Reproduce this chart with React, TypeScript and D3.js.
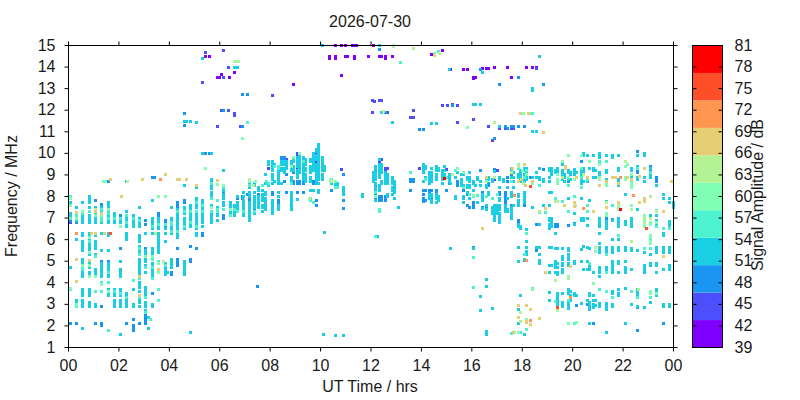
import * as d3 from 'd3';
import React, { useEffect, useRef } from 'react';

type Column = [number, number[]];

const title = '2026-07-30';
const xLabel = 'UT Time / hrs';
const yLabel = 'Frequency / MHz';
const barLabel = 'Signal Amplitude / dB';

const hourTicks = [0, 2, 4, 6, 8, 10, 12, 14, 16, 18, 20, 22, 24];
const freqTicks = [1, 2, 3, 4, 5, 6, 7, 8, 9, 10, 11, 12, 13, 14, 15];
const ampTicks = [39, 42, 45, 48, 51, 54, 57, 60, 63, 66, 69, 72, 75, 78, 81];
const palette = ['#8000ff', '#4d4ffc', '#1a96f2', '#1acfe3', '#4df3ce', '#80ffb4', '#b3f396', '#e6ce74', '#ff964f', '#ff4f28', '#ff0000'];

// each list: [hour, [frequencies]], one list per colour band
const amp41: Column[] = [
  [5.44, [14.5]], [5.6, [14.5]], [5.92, [13.5]], [6, [13.5]], [6.08, [13.65]], [6.38, [13.5]], [6.6, [13.75]],
  [8.92, [13.2]], [10.34, [14.5, 14.4]], [10.58, [15, 14.5, 14.4]], [10.83, [13.6, 15]], [10.98, [15]], [11, [14.5]],
  [11.08, [14.5]], [11.27, [15]], [11.35, [15, 14.5, 14.4]], [11.42, [15]], [11.9, [14.5]], [12.1, [15]], [12.33, [14.5]],
  [12.41, [14.5]], [12.58, [14.5, 14.4]], [12.85, [14.5]], [14.4, [14.6]], [14.84, [14.75]], [15.16, [13.9]], [15.68, [13.9]], [15.84, [13.9]],
  [16.08, [13.45, 13.5]], [16.16, [13.5]], [16.44, [13.95]], [16.59, [13.95]], [16.67, [13.95]], [16.91, [14]], [17.43, [14]],
  [17.58, [13.5]], [18.18, [14]], [18.42, [14]], [18.57, [14]],
];

const amp45: Column[] = [
  [0.07, [6.8]], [5.44, [14.67]], [5.32, [13.27]], [5.92, [11.25]], [6.08, [12]], [6.16, [14.77, 13.5]], [6.36, [14, 12]], [6.58, [11.85, 11.75]],
  [6.84, [11.25]], [8.08, [12.7]], [7.92, [9.3]], [8.64, [9.7]], [9.07, [10, 9.9, 9.3]], [9.83, [10, 9.6]], [10.83, [9.25]],
  [12.07, [12.45, 11.9]], [12.15, [12.4]], [12.18, [9.4]], [12.33, [12.45, 9.6]], [12.41, [12.45]], [12.41, [9.7]], [12.57, [9.3, 9.2, 11.9]], [12.66, [11.9, 9.3]],
  [13.7, [12, 11.65]], [13.57, [11.65]], [13.93, [9.3]], [14.59, [9.3, 9.2]], [14.84, [12.2]], [15, [9.25]], [15.04, [12.2]], [15.24, [12.25]],
  [15.44, [12.2, 11.45]], [16.08, [11.55]], [16.67, [11.25]], [16.83, [10.6]], [17.1, [11.15]], [17.35, [11.15]], [17.43, [11.15]], [17.58, [11.15]],
  [17.66, [11.15]], [18.57, [13.95]], [22.57, [9.9]], [17.02, [9.2]], [16.91, [8.8]],
];

const amp48: Column[] = [
  [0.07, [6.9, 2.1]], [0.32, [6.8, 2.1]], [1.07, [7.8, 2.1]], [1.32, [7.65, 5, 2.9, 2.1, 2]], [1.57, [5, 8.7]], [2.07, [7.1, 5.6]], [2.32, [2.1]],
  [2.57, [2.3, 2, 1.9, 1.8]], [2.82, [2.1]], [3.07, [6.9, 6.7, 5.6, 2.5, 2.4, 2.3, 2.2, 2.1]], [3.32, [5.1, 3.5, 8.9]], [3.4, [8.9]], [3.57, [7.2, 7.1]],
  [3.85, [6.9, 6.8, 6.7, 6.6]], [4.07, [4.5, 4.4]], [4.32, [7.7, 7.6, 7.5, 5.6, 5.1, 5, 4.9, 4.8]], [4.6, [7.8, 7.7, 11.85, 11.3]], [4.85, [5.7, 5.1, 5]],
  [5.09, [5.6]], [5.32, [6.3, 6.2]], [5.44, [10]], [5.6, [10]], [5.92, [7.5]], [6.16, [12, 8.2, 7.1, 7]], [6.44, [7.6, 7.5, 7.4]], [6.69, [7.9, 7.5]],
  [6.9, [12.75, 11.25, 8, 7.9]], [7.1, [12.75, 8.1]], [7.17, [7.9, 7.8]], [7.37, [7.4]], [7.5, [3.85]], [7.55, [8.1]], [7.81, [8.2]],
  [8.08, [8.2, 8.1]], [8.32, [7.8, 7.7]], [8.46, [9.8, 9.7]], [8.56, [9.8, 9.7, 8.7]], [8.64, [9, 8.2]], [8.92, [9.1, 8.7, 8.6]], [9.07, [8.7, 8.6, 8.2]], [9.15, [8.7, 8.6]],
  [9.31, [8.7, 8.6, 8.2]], [9.7, [8.7, 8.6]], [9.83, [7.8, 7.6]], [10.43, [8.3]], [10.9, [9, 7.8, 7.45]], [12.18, [8.1, 7.9]], [12.33, [14.8, 8, 7.9, 7.8]],
  [12.41, [8, 7.9, 7.8, 11.9]], [12.57, [8, 7.9, 7.8, 11.9]], [12.85, [11.45]], [13.57, [8.8, 8.7, 8.3]], [13.7, [8.8, 8.7]], [13.93, [11.1]], [14.09, [11.1, 8.3, 8.1, 7.9, 7.75]],
  [14.17, [8.3, 7.8]], [14.32, [8.3, 8.2]], [14.4, [8.3, 8.1, 7.9]], [14.6, [8.3, 8.2]], [15, [8.3]], [15.1, [8.6]], [15.24, [12.2]], [15.44, [8.7, 8.6, 8.5]], [15.68, [8.3]],
  [15.84, [8.1, 7.6]], [15.92, [7.5]], [16.07, [7.7, 7.6, 7.5]], [16.08, [5.65, 7.5]], [16.36, [9.2, 13.9]], [16.44, [8.2, 7.5]], [16.59, [7.5]], [16.67, [8.6, 8.5]], [16.91, [10.7, 9.25, 8.9, 6.9]],
  [17.1, [13.2, 11.25, 8.2, 8.1]], [17.35, [11.25, 8.2, 8.1, 8, 7.9, 7.8, 7.7]], [17.43, [11.15, 8.9, 8.7]], [17.58, [11.25, 9, 8.9, 7.6]], [17.66, [11.25, 8.9]], [17.86, [11.25, 13.5, 6.9, 6.8, 5.65, 5]],
  [18.1, [11.25, 7.6, 5.05]], [18.34, [8.9]], [18.57, [6.7, 5.65, 5.5]], [18.69, [5, 4.9]], [18.85, [9.25, 7.6, 13.2]], [19.33, [6.7, 6.6, 9.2]], [19.41, [6.7, 6.6]],
  [19.84, [9.2, 8.7, 6.65]], [20.08, [6.75, 9.1]], [20.16, [2.95]], [20.59, [3]], [20.67, [3.1]], [20.83, [2.1]], [20.67, [2.1]], [21.35, [7, 6.9]], [21.58, [6.95]], [22.57, [10.1, 9.2, 9.1, 2.85, 1.8]],
  [23.09, [9.4, 9.2]], [23.33, [8.9, 8.8, 8.7]], [23.6, [2.1]], [20.36, [9.6]],
];

const amp52: Column[] = [
  [0.07, [7.7, 7.6, 7.2, 7.1, 7, 4.7]],
  [0.32, [7.5, 7, 6.9, 6, 3.2, 3.1]],
  [0.57, [7.7, 7.1, 7, 6.9, 6.8, 6.3, 6.2, 5.9, 5.8, 5.7, 5.6, 5.5, 5.1, 5, 4.9, 4.5, 4.4, 4.3, 3.7, 3.6, 3.5, 3.4, 3.2, 3.1, 3, 2.9, 1.9]],
  [0.82, [8, 7.9, 7.8, 7.7, 7.5, 7.1, 7, 6.9, 6.8, 6.3, 6.2, 6, 5.8, 5.7, 5.6, 5.5, 5.3, 4.9, 4.7, 4.5, 4.4, 3.7, 3.6, 3.5, 3.4, 3.1, 3, 2.9]],
  [1.07, [7.5, 7.2, 7, 6.9, 6.8, 6.2, 5.9, 5.8, 5.7, 5.6, 5.3, 4.6, 4.5, 4.4, 4.3, 3, 2.9]],
  [1.32, [7.5, 7.3, 7.1, 7, 6.9, 6.8, 6.3, 5.5, 4.9, 4.8, 4.7, 4.6, 4.5, 4.4, 4.3]],
  [1.57, [7.7, 7.6, 7.5, 7.3, 7.1, 7, 6.9, 6.8, 6.3, 6.2, 5.5, 4.9, 4.8, 4.7, 4.6, 4.5, 4.4, 4.3, 3.7, 3.5, 3.4]],
  [1.82, [7.2, 7.1, 7, 6.9, 6.8, 3.7, 3.5, 3.4, 3.2, 3.1, 3, 2.9]],
  [2.07, [6.9, 6.8, 6.6, 5, 4.6, 4.5, 4.4, 4.3, 3.7, 3.6, 3.4, 3.2, 3.1, 3, 2.9, 1.6]],
  [2.32, [7.3, 7, 6.9, 6.8, 6.7, 6.6, 6.3, 6.2, 6.1, 6, 3.5, 3.4, 3.2, 3.1, 3, 2.9, 8.7]],
  [2.57, [7.1, 7, 6.9, 6.8, 6.7, 6.6, 3.7, 3, 2.9]],
  [2.82, [7.5, 7, 6.9, 6.8, 6.7, 6.6, 6.2, 6.1, 6, 5.9, 5.7, 5.5, 5.4, 5.1, 5, 4.9, 4.8, 4.7, 4.6, 4.5, 4.4, 4, 3.9, 3.8, 3.6, 3.2, 3.1, 2.9]],
  [3.07, [6.3, 5.5, 5.4, 5.3, 5.1, 5, 4.8, 4.5, 3.8, 3.7, 3.6, 3.5, 3.4, 3.1, 3, 2.9, 2.7]],
  [3.17, [2.4, 1.9]],
  [3.32, [7.8, 7, 6.9, 6.8, 6.7, 6.6, 6.5, 6.3, 5.6, 5.5, 5.4, 5.3, 5.2, 4.9, 4.8, 4.6, 4.5, 4.4, 4.3, 3, 2.9]],
  [3.57, [7, 6.9, 6.8, 6.7, 6.6, 6.5, 6.3, 6.2, 6.1, 6, 5.9, 5.8, 5.7, 5.6, 5.5, 5.4, 3.2]],
  [3.85, [6.5, 6.3, 5.9, 4.9, 4.8, 4.7, 4.6, 4.5, 4.4]], [3.93, [4.5]],
  [4.07, [7.5, 7, 6.9, 6.7, 6.6, 6.5, 6.3, 5.1, 5, 4.9, 4.8, 4.7]],
  [4.32, [7.4, 7.2, 7.1, 7, 6.9, 6.8, 6.7, 6.6, 6.5, 6.3, 6.2, 6.1, 8.8]],
  [4.6, [7.5, 7.4, 7.2, 7, 6.9, 6.8, 6.7, 6.6, 6.5, 5, 4.9, 4.8, 4.7, 4.6, 4.5, 4.4, 11.5, 8.5]], [4.69, [11.5]],
  [4.85, [7.6, 7.5, 7.4, 7.2, 7.1, 7, 6.9, 6.8, 6.7, 6.6, 1.7, 11.5]],
  [5.09, [7.9, 7.8, 7.7, 7.6, 7.5, 7.2, 7.1, 7, 6.9, 6.8, 6.7, 6.6, 6.5, 6.3, 6.2, 8.4, 11.45]],
  [5.32, [7.8, 7.7, 7.5, 7.4, 7.2, 7.1, 7, 6.9, 6.8, 6.6, 14.4, 10]],
  [5.68, [8.2, 8.1, 8, 7.9, 7.6, 7.2, 7.1, 7, 6.9, 6.8, 10, 8.8, 8.7, 8.5, 8.35]],
  [5.92, [7.5, 7.2, 7.1, 6.9]],
  [6.16, [8.3, 8.1, 8, 7.9, 7.7, 7.6, 9.2, 8.35]],
  [6.44, [7.7, 7.6, 7.5, 7.3, 7.2]],
  [6.6, [7.6, 7.5, 7.3, 7.2, 7.1, 14, 14.25]], [6.69, [8, 7.7, 7.6, 7.5, 7.4, 14, 14.25]],
  [6.93, [8.2, 8, 7.8, 7.7, 7.6, 7.5, 7.4, 7.2, 7.1]],
  [7.17, [8.2, 8.1, 8, 7.7, 7.6, 7.5, 7.4, 7.3, 7.2, 7.1, 7, 6.9, 8.7, 8.6, 8.5, 8.4]],
  [7.37, [8.2, 8, 7.9, 7.8, 7.7, 7.6, 7.5, 7.2, 8.6, 8.5]],
  [7.55, [8, 7.9, 7.8, 7.7, 7.6, 7.5, 8.4, 8.3]],
  [7.68, [8.3, 8.1, 8, 7.9, 7.8, 7.6, 7.5, 7.3]],
  [7.81, [9, 8.6, 8.2, 8.1, 7.9, 7.8, 7.7, 7.6, 7.5, 7.4]],
  [7.92, [9.6, 9.5, 8.5]],
  [8.08, [9.6, 9.5, 9.4, 9.3, 9.2, 9, 8.9, 8.8, 8.6, 7.8, 7.7, 7.6, 7.5, 7.4, 7.3, 7.2]],
  [8.16, [9.5, 8.7]],
  [8.32, [9.2, 9.1, 9, 8.9, 8.8, 8.7, 8.6, 8.2, 8, 7.6, 7.5, 7.4]],
  [8.46, [9.6, 9.5, 9.3, 9.2, 8.6]],
  [8.56, [9.6, 9.5, 9.3, 9.2, 9.1]],
  [8.64, [9.6, 9.5, 9.4, 9.3]],
  [8.84, [9.6, 9.5, 9.3, 9.2, 8.9, 8.8, 8.7, 8.2, 8.1, 8, 7.9, 7.8, 7.7, 7.6, 7.5, 7.4]],
  [8.92, [9.8, 9.7, 9.6, 9.4, 9.3, 9.2]],
  [9.07, [9.8, 9.7, 9.6, 9.5, 9.4, 9.2, 9.1, 9, 8.9, 7.85]],
  [9.15, [9.9, 9.8, 9.7, 9.6, 9.5, 9.4, 9.3, 9.2, 9.1]],
  [9.31, [9.8, 9.7, 9.5, 9.4, 9.3, 9.2, 9.1, 9, 8.9, 8.8]],
  [9.4, [9.7, 9.6, 9.5, 9.3, 9.2, 9, 8.9, 8.8, 8.7]],
  [9.6, [9.7, 9.6, 9.4, 9.3, 9.2, 9.1, 8.9, 8.8, 8.7, 8.3]],
  [9.7, [10, 9.9, 9.8, 9.7, 9.6, 9.5, 9.4, 9.3, 9.2, 8.3]],
  [9.83, [10.2, 10.1, 9.9, 9.8, 9.7, 9.5, 9.4, 9.3, 9.2, 9.1, 9, 8.9, 8.8, 8.7, 8.6]],
  [9.91, [10.4, 10.3, 10.2, 10.1, 10, 9.9, 9.8, 9.7, 9.6, 9.5, 9.4, 9.3, 9.2, 9.1, 9, 8.9, 8.8, 8.6, 8.3, 8.2]],
  [10.07, [9.8, 9.7, 9.6, 9.5, 9.4, 9.3, 9.2, 9, 8.9, 8.8, 15]],
  [10.15, [9.4, 9.3, 9.2, 6.35]],
  [10.43, [8.6]], [10.58, [8.7, 8.6, 8.5, 8.4]], [10.66, [8.6, 8.5]], [10.9, [8.4, 8.3, 8.2, 8.1, 1.55]], [10.6, [1.55]], [10.1, [1.6]],
  [11.66, [8.1, 8]],
  [12.18, [9.4, 9.3, 9.2, 9.1, 9, 8.9, 8.8, 8.6, 8.5, 8.4, 8.3, 8, 7.8]], [12.1, [9.1, 9, 8.9, 8.8, 8.7]],
  [12.33, [9.7, 9.5, 9.4, 9.3, 9.2, 9.1, 9, 8.9, 8.5, 8.4, 8.3, 15]], [12.41, [9.5, 9.4, 9.3, 9.2, 9.1, 8.7, 8.6, 11.9]],
  [12.25, [6.15]],
  [12.57, [9.1, 9, 8.9, 8.8, 8.7, 8.6]], [12.66, [9, 8.9, 8.8, 8.7, 8.6, 8.1, 8]],
  [12.85, [8.9, 8.8, 8.7, 8.6, 8.4, 8.3, 8.1, 11.45]], [12.93, [8.7, 8.6, 8.5, 8.4, 8.3, 8.2, 7.9]],
  [13.1, [7.5]],
  [14.09, [9.5, 9.4, 9.3, 9.2, 9.1, 8.7]], [14.17, [9.4, 9.3, 8.9]],
  [14.32, [9.1, 9, 8.9, 8.8, 8.7, 8.6, 8.1, 8, 7.9]], [14.4, [9.3, 9.1, 9, 8.9, 8.8, 8.7, 8.1, 8, 7.8, 7.7, 11.4]],
  [14.6, [9.4, 9.3, 9.2, 9, 8.9, 8.8, 8.1, 8, 7.9, 7.7, 11.4]], [14.68, [9.3, 9.2, 8, 7.9, 7.8]],
  [14.84, [9.2, 9.1, 9, 8.9, 8.8, 8.6]], [14.92, [9.4, 9.2, 9, 8.9]],
  [15.1, [9, 8.9, 8.8, 8.7, 13.9]], [15.16, [9, 8.6, 5.6]],
  [15.36, [8.9, 8, 7.9]], [15.44, [9.1]],
  [15.6, [9, 8.8, 8.7, 8.6, 8.5]], [15.68, [9, 8.5, 8, 7.9, 7.7]], [15.84, [8.9, 8.8, 8.5, 8.4, 8.2]],
  [15.92, [9.1, 8.9, 8.8, 8.7, 8.5, 8.4, 7.9]], [16.07, [12.25, 8.3, 8, 5.6]], [16.08, [8.7, 8.6, 12.25]], [16.16, [8.5, 12.25]],
  [16.24, [8.9, 8.8, 7.7]], [16.36, [12.25, 8.7, 8.5, 3.35, 2.7]], [16.44, [13.75, 8.1, 8, 7.9, 7.8, 7.45]], [16.59, [8.8, 8.5, 8.4, 7.6, 7.4, 4.15, 3.85, 1.75, 1.6]],
  [16.67, [8.9, 8.8, 8.2, 8.1]], [16.83, [8.8, 8.7, 7.5, 7.4, 7.3, 7.2, 2.8]], [16.91, [9.15, 7.6, 7.5, 7.4, 7.3, 7.2, 7.1, 7, 6.9]],
  [17.02, [7.6, 7.5, 7.4, 7.3, 7.2]],
  [17.1, [11.25, 8.9, 8.8, 8.4, 7.9, 7.8, 7.6, 7.5, 7.4, 7.2, 7.1, 7, 6.9, 6.8]], [17.27, [8.8, 8.7]], [17.35, [7.6, 7.5, 7.4, 7.3]],
  [17.43, [8.4, 7.9, 7.4, 7.3]], [17.58, [9.3, 9.2, 9.1, 8.9, 8.2, 8.1, 8, 7.5, 7.4, 7.3, 7.2, 7.1, 7]], [17.66, [9.1, 8.9, 8.7, 8.4, 7.6]],
  [17.86, [9.5, 9.4, 9.3, 9, 8.9, 8.1, 8, 7.8, 7.7, 7.6, 6.7, 6.6, 5.65, 5, 2.75, 2.1]], [17.94, [9.2, 9.1, 9, 8.9, 8.8, 8.7, 6.6, 6.5, 3.4, 2.2]],
  [18.1, [9.3, 9.2, 9, 8.9, 8.8, 8.7, 8.2, 8.1, 8, 7.9, 7.8, 7.7, 5.1, 1.6]], [18.18, [9.3, 9.1, 8.9, 8.8, 6.45, 5.9, 5.65, 5.45, 5.3]],
  [18.42, [13, 12.9, 11, 8.9, 7.5]], [18.57, [11, 9.1, 8.9, 5.65]], [18.69, [14.5, 11.5, 9.3, 8.9, 8.8, 6.7, 5.65, 5.3, 5.05, 4.9]],
  [18.85, [8.8, 8.7, 7.6]], [19.09, [9.3, 9.2, 8.9, 8.7, 8.2, 7.6, 7, 6.9, 6.7, 6.6, 6.5, 5.65, 4.8, 4.5, 3.55, 3.2]],
  [19.17, [9.3, 9.2, 9.1, 9, 8.2, 7, 6.9, 6.8, 6.7, 6.6, 5.65, 4.8]], [19.33, [9.2, 9.1, 6.3, 5.6, 5, 4.9, 4.8, 4.7, 4.5]],
  [19.41, [9.3, 9.2, 9.1, 9, 8.8, 5.6, 4.9, 4.7, 4.5, 4.4, 3.5, 3.4, 3.3, 3.2, 3.1, 3, 2.9]],
  [19.6, [9.5, 9.2, 9.1, 9, 8.8, 5.6, 5.2, 5.1, 4.9, 4.8, 4.6, 4.5, 3.5, 3.1, 3, 2.9]], [19.68, [9, 8.9, 8.7]],
  [19.84, [9.2, 9.1, 8.9, 8.8, 7.9, 5.6, 5.5, 5.3, 5.2, 5.1, 4.9, 4.8, 3.7, 3.6, 3.5, 3.1, 3, 2.9, 2.8]], [19.92, [9.1, 9, 8.8, 3.6, 3.4, 3.2]],
  [20.08, [9.25, 9.1, 9, 7.2, 6.7, 5, 4.9, 3.5, 3.4]], [20.16, [9.1, 3.4]],
  [20.36, [9.9, 9.3, 9.2, 9.1, 9, 8.8, 8.7, 8.6, 8.4, 7.9, 7, 6.9, 5.55, 5, 3.05]], [20.44, [10, 9.9, 9.3, 9.2, 9.1, 9, 8.7, 7, 6.9, 5.7, 4.6]],
  [20.59, [9.9, 8.9, 8.7, 7, 6.65, 5.65, 5, 4.6, 3.2]], [20.67, [9.3, 7.8, 5.6, 4.8, 4.7, 4.6, 3.5, 3.4, 3.1, 3, 2.9, 2.75, 2.1]],
  [20.83, [9.9, 9.3, 9.2, 8.9, 4.5, 3.4, 3.2, 3, 2.85]], [20.91, [9.2, 8.9, 3.2, 2.95]],
  [21.07, [10, 9.9, 9.8, 9.6, 9.1, 9, 8.9, 7, 6.9, 6.8, 6.7, 6.6, 6.3, 5.8, 5.65, 5.5, 5.4, 4.7, 4.6, 4.5, 4.3, 3.05, 2.9]],
  [21.35, [9.9, 9.2, 9.1, 8.8, 8.7, 7.75, 6.85, 6.7, 6.6, 6.5, 5.65, 5.5, 5.4, 4.7, 4.6, 4.5, 3.05, 2.9, 2.75, 1.7]],
  [21.58, [9.9, 9.8, 8.9, 6.9, 6, 5.65, 5.5, 5.4, 5, 4.9, 4.8, 4.7, 4.6, 4.5, 3.6, 3.5, 3, 2.9]],
  [21.82, [9.9, 9.3, 9.2, 8.8, 8.7, 8.5, 7, 6.9, 6.8, 6.7, 6.6, 6, 5.65, 5.5, 5, 4.9, 4.5, 3.7, 3.5, 3.4]],
  [22.1, [8.1, 6.85, 6.7, 5.65, 5.5, 5, 4.7, 4.6, 4.5, 3.75, 2.1]], [22.34, [9.3, 9.2, 8.9, 8.8, 8.7, 7, 6.9, 6.8, 6.7, 6.6, 5.6, 5.5, 4.6, 3]],
  [22.57, [9.9, 9.4, 9.3, 8.9, 8.8, 7.4, 5.5, 3.7, 3.6, 3.5, 3.4, 2.9]], [22.85, [10, 9.9, 8.9, 8.7, 5.4, 4.8, 4.7, 4.6, 4.5, 2.85]],
  [23.09, [9.3, 9.1, 9, 8.9, 7.1, 5.3, 4.9, 4.8, 3.1]], [23.33, [8.5, 7.1, 6.9, 6.8, 6.7, 5.65, 5.5, 5.4, 4.9, 4.8, 4.5, 3.7, 3.6, 3.5, 3.4]],
  [23.6, [8.1, 7.9, 6.3, 6.2, 5.65, 5.5, 5.4, 4.6, 3, 2.9]], [23.84, [7.9, 7.7, 6.85, 6.7, 6.6, 5.65, 5.5, 5.4, 4.8, 4.7, 4.6, 3, 2.9]],
  [24, [7.7, 7.6, 7.5]],
];

const amp56: Column[] = [
  [0.07, [8, 7.9, 7, 3.7]], [0.32, [7.1, 2.9]], [0.57, [7.2, 4.7, 4.6]], [0.82, [7.3, 6.1, 5.9, 5.4, 4.3]], [1.07, [7.1, 5.2, 3.6]], [1.32, [7.4, 7, 6.9, 4, 3.6]],
  [1.57, [7.2, 7, 4.5, 4, 3.6, 1.8]], [1.82, [7, 3.6]], [2.07, [7, 3.5]], [2.32, [7.1, 6.8, 3.3]], [2.57, [7, 4.1]], [2.82, [6.9, 5.6, 5.3, 4.2, 3.3]],
  [3.07, [5.2, 4.7, 2.6, 3.3]], [3.25, [2.3]], [3.32, [6.6, 5.1, 4.7, 4.2]], [3.57, [6.7, 5, 3.7, 3.2]], [3.85, [6.7, 4.8]], [4.07, [6.8, 6.7, 6.4]], [4.32, [7.3, 6.4]],
  [4.6, [7.3, 6.6]], [4.85, [6.8, 7.3]], [5.09, [7.7, 7.3, 6.6]], [5.32, [7.6, 7.3]], [5.44, [9.3]], [5.68, [7.9, 7.5, 7.3, 8.6]], [5.92, [7.8, 7.4, 7.3]], [6.16, [8.4, 7.4]],
  [6.44, [7.4, 7.1]], [6.6, [7.4]], [6.69, [7.3]], [6.93, [7.3]], [7.1, [11.45]], [7.17, [8.5]], [7.37, [7.3]], [7.68, [8.5]], [7.86, [8.7]], [7.92, [8.6]],
  [8.16, [9.4]], [8.32, [9.4, 9.3]], [8.84, [8.6]], [9.31, [9.6]], [9.6, [7.9, 7.8]], [9.7, [7.7]], [10.43, [8.8]], [10.6, [8.4]], [10.66, [8.4]], [12.18, [8.2, 6.15]], [12.33, [7.4, 7.3]],
  [13.17, [14.2]], [13.57, [9.1]], [14.17, [8.8]], [14.68, [14.7]], [15.0, [8.9]], [15.36, [9.2]], [15.68, [8.4]], [15.92, [8.1]], [16.08, [8, 5.15, 3.8]], [16.24, [8.05]], [16.59, [8]],
  [16.83, [7.9]], [17.02, [8.1]], [17.58, [8.7, 1.65]], [17.86, [9.3]], [17.94, [1.7]], [18.1, [8.9, 5.3]], [18.18, [9.2, 6.3, 1.85]], [18.42, [3.75]], [18.4, [11.85]],
  [18.69, [7.25, 8.5]], [18.93, [7.25]], [19.33, [7.9, 3.15]], [19.6, [7.75]], [19.84, [8.5, 7.3, 3.2]], [20.08, [8, 2.1]], [20.36, [9.3, 8.9, 8.4]], [20.59, [7.6, 7.3, 8.8]],
  [20.67, [4.9]], [21.07, [9.6, 8.9, 3.7]], [21.35, [9.6, 5.3, 4.5, 3.6]], [21.58, [7.6, 3.3]], [21.82, [6.2]], [22.34, [7.4, 3.6]], [22.57, [9.3, 3.3]], [22.85, [7.1, 6.7, 5.6]], [23.09, [9.1, 6, 5.6, 3.5, 3.3]],
  [23.33, [7.35, 6.6]], [23.6, [6.5, 5.2]], [23.84, [6.5]],
];

const amp60: Column[] = [
  [0.07, [7.9, 7.6, 3.75]], [0.32, [7, 3]], [0.57, [7.3, 4.8]], [0.82, [6.1, 5.4, 4.8, 4.3]], [1.07, [7.1, 4.3]], [1.32, [7.1, 3.9]], [1.39, [8.7]], [1.45, [8.7]], [1.57, [7.4, 3.6]], [2.07, [6.6]],
  [2.35, [8.7]], [2.82, [4.3]], [3.07, [5.2]], [3.32, [5.2]], [3.57, [8, 4.9, 4.5]], [3.85, [8]], [5.44, [9.3]], [5.68, [7.5]], [5.92, [8.55]], [6.16, [8.5]], [6.44, [7.4]], [6.65, [14.25]],
  [6.9, [10.7]], [7.17, [8.7]], [7.41, [8.7]], [8.84, [9.4]], [8.92, [9.8]], [9.15, [10]], [10.38, [8.8, 8.7]], [10.58, [8.7]], [12.18, [8]], [12.49, [11.95]], [12.9, [15]], [13.7, [14.85]],
  [14.52, [14.65]], [15.84, [11.2]], [15.44, [9.3]], [15.68, [9.1]], [16.08, [8.05]], [16.59, [8.7]], [16.9, [11.45]], [17.86, [9.5, 8.7]], [18, [9.2]], [18.18, [9]], [18.05, [11.85]], [18.29, [11.85]], [18.42, [8.6]],
  [19.6, [9.6, 8.9]], [19.84, [9.9, 8.9]], [19.41, [9, 8.8, 8.7, 8.6]], [20.08, [8.8]], [20.67, [9.6]], [21.07, [9.5, 8.9]], [21.35, [8.7, 8.6, 8.5]], [21.35, [7.2, 7.1]], [21.82, [7.5, 7.4]], [22.1, [9.6, 9.4, 8.9, 8.8]], [22.18, [9.5]],
  [22.34, [9, 8.7, 8.6, 8.5, 8.4, 7.6]], [22.85, [7.1, 7, 6.9, 6.8, 6.7, 6.6]], [23.09, [6.8, 6.7, 6.2, 6.1, 5.9, 5.8, 3.6, 3.5]], [23.33, [7.3, 6.8, 3.5]],
  [20.36, [9.9]], [18.42, [3.7]], [17.86, [1.7]], [18.18, [2.3]], [17.7, [1.7]], [19.84, [4.3, 2.1]], [20.16, [2.15]], [20.91, [5.45]], [20.83, [3.95]],
];

const amp64: Column[] = [
  [1.07, [7.4]], [2.35, [8.7]], [3.45, [6.3]], [3.75, [5]], [6.58, [14.25]], [6.76, [14.25]], [7.2, [8.8]], [7.35, [8.5]], [9.55, [7.9]], [10.45, [8.7]], [12.5, [11.95]], [12.9, [14.95]], [13.7, [14.85]], [14.7, [14.65]],
  [15.24, [9]], [16.9, [11.45]], [16.9, [8.9]], [17.86, [9.4]], [17.58, [9.1]], [18.05, [8.6]], [18.7, [7.3]], [19.33, [7.75]], [19.41, [7.75]], [19.6, [8.9]], [20.1, [7.6]], [20.91, [5.65]], [21.35, [7.7]], [21.82, [7.6]], [22.34, [7.4, 5.9]],
  [22.85, [7, 6.8]], [23.09, [8, 7]], [23.33, [7.3]], [19.41, [2.7]], [19.84, [4.2]], [20.44, [9]], [21.07, [8.8]], [22.1, [9.6]], [22.6, [3.7]], [17.92, [2.6, 2.2]], [19.3, [4.1]],
];

const amp68: Column[] = [
  [0.32, [7.25, 5.1, 4.05]], [0.9, [6.3]], [0.82, [5.05]], [1.07, [7.3, 6.3]], [1.32, [7.2]], [1.42, [6.3]], [1.67, [8.8]], [2.1, [8]], [2.94, [8.8]], [2.82, [4.3, 3.4]], [3.57, [4.6]], [3.85, [9]], [4.33, [8.8]], [4.41, [8.8]], [4.69, [8.8]],
  [5.09, [8.5]], [5.92, [8.75]], [14.52, [14.55]], [17.92, [11.85]], [18.25, [11.85]], [18.85, [10.95]], [16.44, [6.5]], [16.59, [8.9]], [17.6, [9.3]], [17.66, [1.7]], [17.86, [8.7, 2.95, 2.4]], [17.97, [8.8]], [18.1, [9.5]], [18.14, [8.5]], [18.18, [2.95, 2.2, 2.15]],
  [18.34, [2.75, 2.05]], [18.42, [8.7]], [18.69, [2.35]], [18.93, [4.5, 7.45]], [19.68, [7.6]], [19.72, [9.4, 9.3]], [19.9, [4.75]], [20.08, [7.7, 7.55]], [20.16, [8.9]], [20.6, [8.9]], [20.83, [7.3]], [21.07, [8.5]], [21.35, [7.5, 8.7]], [21.58, [8.9]], [21.7, [8.9]], [21.82, [7.7, 8.6]],
  [22.18, [8.9]], [22.34, [8.8]], [22.65, [8.95, 7.7]], [22.85, [9.3, 7.9, 7.75]], [23.6, [7.3, 5.2]], [23.92, [8.7]],
];

const amp71: Column[] = [
  [0.32, [6.3]], [3.66, [8.8]], [18.18, [5.05]], [18.34, [2.25]], [19.92, [3.3]], [20.44, [7.45]], [21.9, [8.9]], [22.42, [8.05]], [17.68, [8.05]],
];
const amp75: Column[] = [
  [1.67, [6.3]], [18.34, [8.45]], [19.41, [2.85]], [22.93, [6.5]],
];
const amp79: Column[] = [
  [14.92, [8.85]], [21.9, [7.4]],
];

const bands: [number, Column[]][] = [
  [41, amp41], [45, amp45], [48, amp48], [52, amp52], [56, amp56], [60, amp60], [64, amp64], [68, amp68], [71, amp71], [75, amp75], [79, amp79],
];

const font = '"Liberation Sans", Arial, sans-serif';

const App = () => {
  const ref = useRef<SVGSVGElement>(null);

  useEffect(() => {
    const svg = d3.select(ref.current);
    svg.selectAll('*').remove();

    const xScale = d3.scaleLinear().domain([0, 24]).range([68.5, 673.5]);
    const yScale = d3.scaleLinear().domain([1, 15]).range([347.5, 45.5]);
    const colour = d3.scaleQuantize<string>().domain([39, 81]).range(palette);
    const barY = d3.scaleLinear().domain([39, 81]).range([347.5, 45.5]);

    const fmtHour = (d: number) => String(d % 24).padStart(2, '0');

    // points first, the frame goes over them
    const cells = svg.append('g');
    bands.forEach(([amp, columns]) => {
      columns.forEach(([hour, freqs]) => {
        freqs.forEach(freq => {
          cells
            .append('rect')
            .attr('x', Math.round(xScale(hour) - 1.5))
            .attr('y', Math.round(yScale(freq) - 1.5))
            .attr('width', 3)
            .attr('height', 3)
            .attr('fill', colour(amp));
        });
      });
    });

    const styleAxis = (g: any) => {
      g.attr('font-family', font).attr('font-size', 16).attr('fill', '#000');
      g.selectAll('text').attr('fill', '#1a1a1a');
      g.selectAll('path,line').attr('stroke', '#000').attr('stroke-width', 1);
    };

    svg.append('g').attr('transform', 'translate(0,347.5)')
      .call(d3.axisBottom(xScale).tickValues(hourTicks).tickFormat(fmtHour as any).tickSize(4).tickSizeOuter(0).tickPadding(8).offset(0))
      .call(styleAxis);
    svg.append('g').attr('transform', 'translate(0,45.5)')
      .call(d3.axisTop(xScale).tickValues(hourTicks).tickFormat(() => '').tickSize(4).tickSizeOuter(0).offset(0))
      .call(styleAxis);
    svg.append('g').attr('transform', 'translate(68.5,0)')
      .call(d3.axisLeft(yScale).tickValues(freqTicks).tickSize(4).tickSizeOuter(0).tickPadding(9).offset(0))
      .call(styleAxis);
    svg.append('g').attr('transform', 'translate(673.5,0)')
      .call(d3.axisRight(yScale).tickValues(freqTicks).tickFormat(() => '').tickSize(4).tickSizeOuter(0).offset(0))
      .call(styleAxis);

    // colour bar
    const bar = svg.append('g');
    palette.forEach(c => {
      const [lo, hi] = colour.invertExtent(c);
      bar.append('rect')
        .attr('x', 693).attr('width', 29.5)
        .attr('y', barY(hi)).attr('height', barY(lo) - barY(hi))
        .attr('fill', c);
    });
    bar.append('rect').attr('x', 692.5).attr('y', 45.5).attr('width', 30).attr('height', 302)
      .attr('fill', 'none').attr('stroke', '#000');
    svg.append('g').attr('transform', 'translate(722.5,0)')
      .call(d3.axisRight(barY).tickValues(ampTicks).tickSize(-4).tickSizeOuter(0).tickPadding(12).offset(0))
      .call(styleAxis)
      .call((g: any) => g.select('.domain').remove());
    svg.append('g').attr('transform', 'translate(692.5,0)')
      .call(d3.axisLeft(barY).tickValues(ampTicks).tickFormat(() => '').tickSize(-4).tickSizeOuter(0).offset(0))
      .call(styleAxis)
      .call((g: any) => g.select('.domain').remove());

    const label = (text: string, x: number, y: number, rotate = 0) =>
      svg.append('text')
        .attr('transform', `translate(${x},${y}) rotate(${rotate})`)
        .attr('text-anchor', 'middle')
        .attr('font-family', font)
        .attr('font-size', 16)
        .attr('fill', '#1a1a1a')
        .text(text);

    label(title, 370, 27);
    label(xLabel, 370, 392);
    label(yLabel, 17, 196, -90);
    label(barLabel, 763, 195, -90);
  }, []);

  return <svg ref={ref} width={800} height={400} style={{ position: 'absolute', left: 0, top: 0, background: '#fff' }} />;
};

export default App;
